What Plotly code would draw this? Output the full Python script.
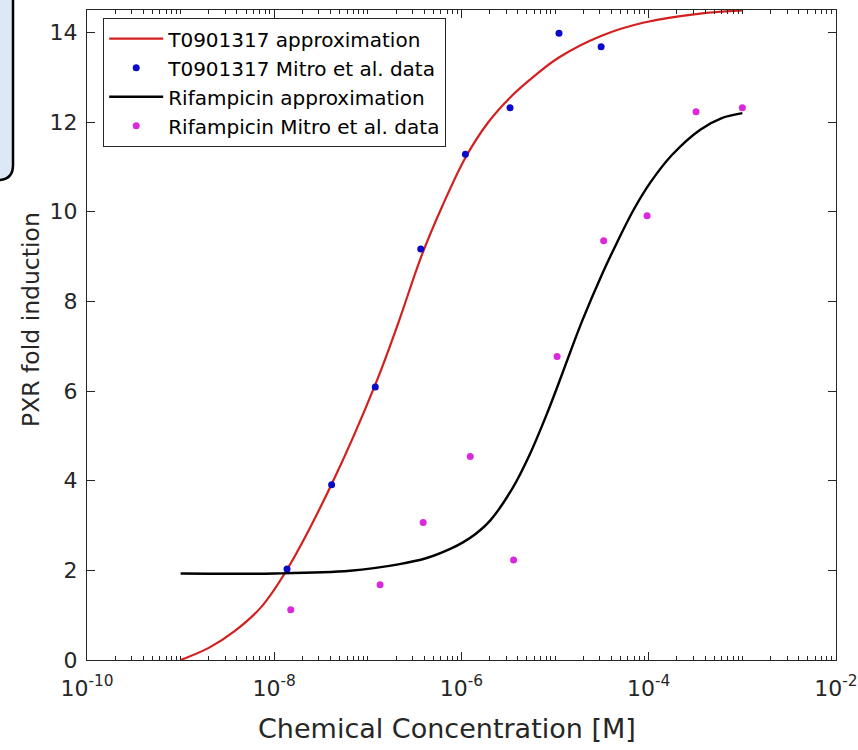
import plotly.graph_objects as go

# T0901317 measurements (Mitro et al.)
t_conc = [1.37e-8, 4.1e-8, 1.2e-7, 3.67e-7, 1.1e-6, 3.3e-6, 1.1e-5, 3.1e-5, 8.9e-5]
t_fold = [2.03, 3.91, 6.09, 9.17, 11.28, 12.32, 13.98, 13.68, 14.51]

# Rifampicin measurements (Mitro et al.)
r_conc = [1.5e-8, 1.35e-7, 3.9e-7, 1.24e-6, 3.6e-6, 1.05e-5, 3.3e-5, 9.6e-5, 3.2e-4, 1.0e-3]
r_fold = [1.12, 1.68, 3.07, 4.54, 2.23, 6.77, 9.35, 9.91, 12.23, 12.32]

# Fitted approximation curves, sampled at log10 concentration
t_fit_log = [-9.0, -8.7, -8.42, -8.14, -7.86, -7.39, -6.91, -6.67, -6.43, -6.2, -5.96,
             -5.72, -5.48, -5.22, -4.96, -4.51, -4.05, -3.45, -3.0]
t_fit_fold = [0.0, 0.27, 0.65, 1.18, 2.03, 3.91, 6.2, 7.55, 9.0, 10.15, 11.2,
              11.98, 12.55, 13.03, 13.44, 13.92, 14.22, 14.42, 14.49]

r_fit_log = [-9.0, -8.0, -7.19, -6.66, -6.38, -6.12, -5.98, -5.85, -5.69, -5.45, -5.27,
             -5.09, -4.95, -4.84, -4.71, -4.5, -4.34, -4.16, -3.98, -3.75, -3.45,
             -3.22, -3.0]
r_fit_fold = [1.93, 1.93, 1.99, 2.14, 2.27, 2.48, 2.63, 2.81, 3.12, 3.85, 4.59,
              5.48, 6.24, 6.86, 7.57, 8.60, 9.31, 10.05, 10.66, 11.27, 11.83,
              12.09, 12.20]

x_tick_vals = [1e-10, 1e-8, 1e-6, 1e-4, 1e-2]
x_tick_text = ["10<sup>-10</sup>", "10<sup>-8</sup>", "10<sup>-6</sup>",
               "10<sup>-4</sup>", "10<sup>-2</sup>"]
y_tick_vals = [0, 2, 4, 6, 8, 10, 12, 14]

W, H = 858, 750
ML, MR, MT, MB = 87, 22, 10, 90
PW, PH = W - ML - MR, H - MT - MB

FONT = "DejaVu Sans, Liberation Sans, Arial, sans-serif"
INK = "#262626"

fig = go.Figure()
fig.add_trace(go.Scatter(
    x=[10 ** v for v in t_fit_log], y=t_fit_fold, mode="lines",
    line=dict(color="#d41f1f", width=2.2, shape="spline", smoothing=1.0),
    name="T0901317 approximation", cliponaxis=False))
fig.add_trace(go.Scatter(
    x=t_conc, y=t_fold, mode="markers",
    marker=dict(color="#0a0ac8", size=7),
    name="T0901317 Mitro et al. data", cliponaxis=False))
fig.add_trace(go.Scatter(
    x=[10 ** v for v in r_fit_log], y=r_fit_fold, mode="lines",
    line=dict(color="#000000", width=2.4, shape="spline", smoothing=1.0),
    name="Rifampicin approximation", cliponaxis=False))
fig.add_trace(go.Scatter(
    x=r_conc, y=r_fold, mode="markers",
    marker=dict(color="#dc28dc", size=7),
    name="Rifampicin Mitro et al. data", cliponaxis=False))


def px(xp):
    return (xp - ML) / PW


def py(yp):
    return (H - MB - yp) / PH


# rounded panel peeking in at the top-left corner
r = 15
box_path = (f"M {px(-20)},{py(-20)} L {px(13)},{py(-20)} L {px(13)},{py(180 - r)} "
            f"Q {px(13)},{py(180)} {px(13 - r)},{py(180)} L {px(-20)},{py(180)} Z")

fig.update_layout(
    width=W, height=H,
    margin=dict(l=ML, r=MR, t=MT, b=MB),
    paper_bgcolor="white", plot_bgcolor="white",
    font=dict(family=FONT, color=INK, size=22),
    showlegend=True,
    legend=dict(
        x=px(103), y=py(18), xanchor="left", yanchor="top",
        bgcolor="white", bordercolor=INK, borderwidth=1.2,
        font=dict(family=FONT, size=20, color="#000000"),
        tracegroupgap=0, itemwidth=54,
    ),
    shapes=[dict(type="path", xref="paper", yref="paper", path=box_path,
                 fillcolor="#dce8f5", line=dict(color="#000000", width=2.5),
                 layer="above")],
    annotations=[
        dict(text="Chemical Concentration [M]", xref="paper", yref="paper",
             x=px(447), y=py(728), xanchor="center", yanchor="middle",
             showarrow=False, font=dict(family=FONT, size=27, color=INK)),
        dict(text="PXR fold induction", xref="paper", yref="paper",
             x=px(31), y=py(320), xanchor="center", yanchor="middle", textangle=-90,
             showarrow=False, font=dict(family=FONT, size=23.5, color=INK)),
    ],
    xaxis=dict(
        type="log", range=[-10, -2], automargin=False,
        tickmode="array", tickvals=x_tick_vals, ticktext=x_tick_text,
        ticks="inside", ticklen=8, tickwidth=1, tickcolor=INK,
        minor=dict(ticks="inside", ticklen=4, tickwidth=1, tickcolor=INK, dtick="D1"),
        showline=True, linecolor=INK, linewidth=1.2, mirror="allticks",
        showgrid=False, zeroline=False, ticklabelstandoff=8,
        tickfont=dict(size=22, color=INK),
    ),
    yaxis=dict(
        range=[0, 14.5], automargin=False,
        tickmode="array", tickvals=y_tick_vals,
        ticks="inside", ticklen=8, tickwidth=1, tickcolor=INK,
        showline=True, linecolor=INK, linewidth=1.2, mirror="allticks",
        showgrid=False, zeroline=False, ticklabelstandoff=4,
        tickfont=dict(size=22, color=INK),
    ),
)

fig.write_html("out.html")
